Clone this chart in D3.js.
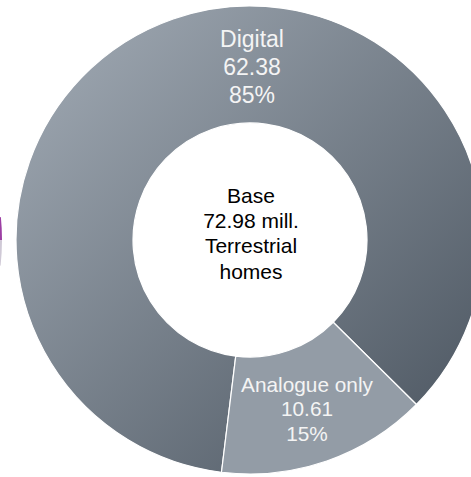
<!DOCTYPE html>
<html>
<head>
<meta charset="utf-8">
<script src="https://cdn.jsdelivr.net/npm/d3@7"></script>
<style>
  html, body { margin: 0; padding: 0; background: #fff; }
  svg { display: block; }
  text { font-family: "Liberation Sans", Arial, sans-serif; }
</style>
</head>
<body>
<svg id="chart" width="471" height="477"></svg>
<script>
// ---- data ----
const categories = ["Digital", "Analogue only"];
const values = [62.38, 10.61];
const percentLabels = ["85%", "15%"];
const centerLines = ["Base", "72.98 mill.", "Terrestrial", "homes"];
// neighbouring (cropped) chart fragment visible at the left edge
const neighbourValues = [1, 1.1];

const W = 471, H = 477;
const cx = 250, cy = 240, R = 234, r = 117;
const startDeg = 187;

const svg = d3.select("#chart");
const defs = svg.append("defs");

// gradient in the slice group's local coordinates (centre at 0,0)
const grad = defs.append("linearGradient")
  .attr("id", "gDigital")
  .attr("gradientUnits", "userSpaceOnUse")
  .attr("x1", -R).attr("y1", -R)
  .attr("x2", R).attr("y2", R);
grad.append("stop").attr("offset", "0%").attr("stop-color", "#a4adb7");
grad.append("stop").attr("offset", "100%").attr("stop-color", "#48525d");

const fills = ["url(#gDigital)", "#939ca6"];

const pie = d3.pie().sort(null).value(d => d)
  .startAngle(startDeg * Math.PI / 180)
  .endAngle((startDeg + 360) * Math.PI / 180);
const arc = d3.arc().innerRadius(r).outerRadius(R);
const arcs = pie(values);

// neighbour fragment
const ncx = 2 - R;
const npie = d3.pie().sort(null).value(d => d)
  .startAngle(Math.PI * 0.5 - 0.098).endAngle(Math.PI * 0.5 + 0.11);
const ng = svg.append("g").attr("transform", `translate(${ncx},${cy})`);
ng.selectAll("path").data(npie(neighbourValues)).join("path")
  .attr("d", arc)
  .attr("fill", (d, i) => i === 0 ? "#9c3fa3" : "#cfc9d6");

const g = svg.append("g").attr("transform", `translate(${cx},${cy})`);
g.selectAll("path.slice").data(arcs).join("path")
  .attr("class", "slice")
  .attr("d", arc)
  .attr("fill", (d, i) => fills[i])
  .attr("stroke", "#ffffff")
  .attr("stroke-width", 1.2)
  .attr("stroke-linejoin", "round");

// slice labels
const labelCfg = [
  { x: 252, y: 47.3, size: 23, step: 27.7 },
  { x: 307, y: 391.7, size: 20.8, step: 24.7 }
];
arcs.forEach((a, i) => {
  const lines = [categories[i], values[i].toFixed(2), percentLabels[i]];
  const c = labelCfg[i];
  const t = svg.append("text")
    .attr("text-anchor", "middle")
    .attr("fill", "#f4f4f4")
    .attr("font-size", c.size + "px");
  lines.forEach((s, k) => {
    t.append("tspan").attr("x", c.x).attr("y", c.y + k * c.step).text(s);
  });
});

// center text
const ct = svg.append("text")
  .attr("text-anchor", "middle")
  .attr("fill", "#000")
  .attr("font-size", "21px");
centerLines.forEach((s, k) => {
  ct.append("tspan").attr("x", 251).attr("y", 202.7 + k * 25.3).text(s);
});
</script>
</body>
</html>
